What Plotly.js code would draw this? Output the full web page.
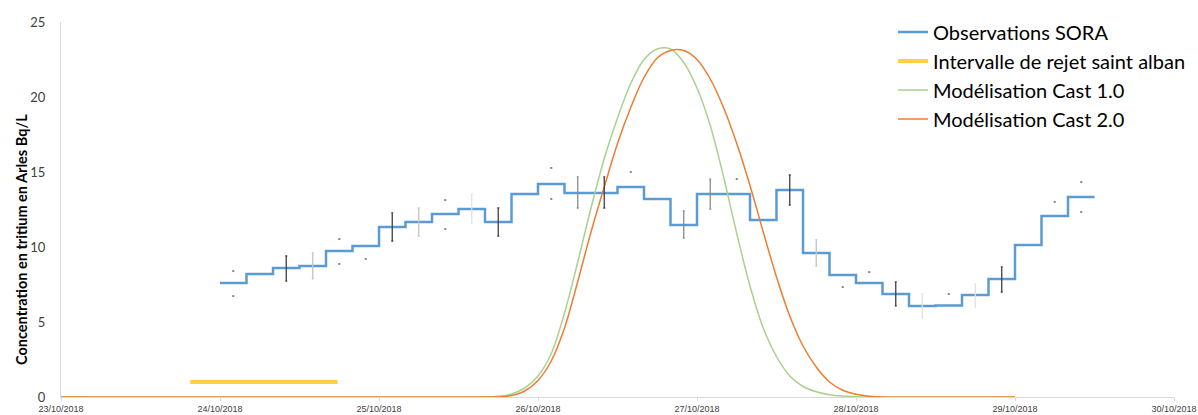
<!DOCTYPE html>
<html>
<head>
<meta charset="utf-8">
<script src="https://cdn.plot.ly/plotly-3.0.1.min.js"></script>
<style>html,body{margin:0;padding:0;background:#fff;}#chart{width:1198px;height:415px;}</style>
</head>
<body>
<div id="chart"></div>
<script>
// ---- Data ----
// Observations SORA: 4-hour step values starting 24/10/2018 00:00
const obsStart = '2018-10-24 00:00';
const obsValues = [7.6, 8.2, 8.6, 8.73, 9.73, 10.07,
                   11.33, 11.67, 12.2, 12.53, 11.67, 13.53,
                   14.2, 13.6, 13.6, 14.0, 13.2, 11.47,
                   13.53, 13.53, 11.8, 13.8, 9.6, 8.13,
                   7.6, 6.87, 6.07, 6.1, 6.8, 7.87,
                   10.13, 12.07, 13.33];

// Error bars (index of 4-h interval, upper, lower)
const darkBarIdx = [2, 6, 10, 14, 21, 25, 29];
const darkBarHigh = [9.4, 12.27, 12.6, 14.67, 14.8, 7.67, 8.67];
const darkBarLow = [7.73, 10.4, 10.73, 12.6, 12.8, 6.07, 7.0];
const grayBarIdx = [13, 17, 18];
const grayBarHigh = [14.67, 12.4, 14.53];
const grayBarLow = [12.6, 10.6, 12.53];
const lightBarIdx = [3, 7, 22];
const lightBarHigh = [9.6, 12.6, 10.47];
const lightBarLow = [7.87, 10.73, 8.73];
const paleBarIdx = [9, 26, 28];
const paleBarHigh = [13.53, 6.87, 7.53];
const paleBarLow = [11.6, 5.27, 6.0];
// Error bar caps only (line invisible)
const capIdx = [0, 0, 4, 4, 5, 8, 8, 12, 12, 15, 19, 23, 24, 27, 31, 32, 32];
const capValues = [8.4, 6.73, 10.53, 8.87, 9.2, 13.13, 11.2, 15.27, 13.2, 15.0, 14.53, 7.33, 8.33, 6.87, 13.0, 14.33, 12.33];

// Intervalle de rejet saint alban
const rejetTimes = ['2018-10-23 19:30', '2018-10-24 17:45'];
const rejetValues = [1.0, 1.0];

// Model curves: hours relative to 26/10/2018 00:00
const modelRef = '2018-10-26 00:00';
const modelHours = [-72, -8, -6, -4, -2, 0, 2, 4, 6, 8, 10, 12, 14, 16, 18, 20, 22, 24, 26, 28, 30, 32, 34, 36, 38, 40, 42, 44, 46, 48, 50, 52, 72];
const cast1Values = [0, 0, 0.05, 0.2, 0.6, 1.4, 2.9, 5.6, 9.0, 12.6, 15.9, 18.6, 20.9, 22.5, 23.2, 23.2, 22.3, 20.6, 18.1, 14.7, 10.9, 7.4, 4.6, 2.7, 1.4, 0.7, 0.35, 0.15, 0.06, 0.02, 0, 0, 0];
const cast2Values = [0, 0, 0, 0.1, 0.4, 1.1, 2.4, 4.6, 7.7, 11.0, 14.0, 16.9, 19.3, 21.3, 22.6, 23.1, 23.1, 22.5, 21.2, 19.3, 16.9, 14.1, 11.0, 8.0, 5.4, 3.4, 2.0, 1.0, 0.45, 0.18, 0.05, 0, 0];

const xRange = ['2018-10-23 00:00', '2018-10-30 00:00'];
const yTicks = [0, 5, 10, 15, 20, 25];

// ---- helpers ----
function toMs(s){ const p = s.split(/[- :]/).map(Number); return Date.UTC(p[0], p[1]-1, p[2], p[3]||0, p[4]||0); }
function fmt(ms){ return new Date(ms).toISOString().slice(0,16).replace('T',' '); }
const H = 3600e3;
const obsT0 = toMs(obsStart);
const obsX = obsValues.map((v,i)=>fmt(obsT0 + i*4*H)).concat([fmt(obsT0 + obsValues.length*4*H)]);
const obsY = obsValues.concat([obsValues[obsValues.length-1]]);
const idxTime = i => fmt(obsT0 + (i*4+2)*H);
const modelX = modelHours.map(h => fmt(toMs(modelRef) + h*H));

function barTrace(idx, hi, lo, color){
  const mid = hi.map((h,i)=>(h+lo[i])/2);
  return {
    x: idx.map(idxTime), y: mid, type:'scatter', mode:'markers',
    marker:{size:1, opacity:0}, showlegend:false, hoverinfo:'skip',
    error_y:{type:'data', symmetric:false, array: hi.map((h,i)=>h-mid[i]), arrayminus: lo.map((l,i)=>mid[i]-l), color: color, thickness:1.3, width:1}
  };
}

const traces = [
  {x: obsX, y: obsY, type:'scatter', mode:'lines', name:'Observations SORA', line:{shape:'hv', color:'#5B9BD5', width:2.5}},
  {x: rejetTimes, y: rejetValues, type:'scatter', mode:'lines', name:'Intervalle de rejet saint alban', line:{color:'#FFC000', width:4}, opacity:0.75},
  {x: modelX, y: cast1Values, type:'scatter', mode:'lines', name:'Modélisation Cast 1.0', line:{shape:'spline', color:'#A9D18E', width:1.5}},
  {x: modelX, y: cast2Values, type:'scatter', mode:'lines', name:'Modélisation Cast 2.0', line:{shape:'spline', color:'#ED7D31', width:1.5}},
  barTrace(darkBarIdx, darkBarHigh, darkBarLow, '#404040'),
  barTrace(grayBarIdx, grayBarHigh, grayBarLow, '#8C8C8C'),
  barTrace(lightBarIdx, lightBarHigh, lightBarLow, '#C4C4C4'),
  barTrace(paleBarIdx, paleBarHigh, paleBarLow, '#E2E2E2'),
  {x: capIdx.map(idxTime), y: capValues, type:'scatter', mode:'markers', showlegend:false, hoverinfo:'skip',
   marker:{symbol:'line-ew', size:1.5, line:{width:1.5, color:'#666666'}, color:'#666666'}}
];

const layout = {
  width:1198, height:415,
  margin:{l:61, r:24, t:22, b:18, autoexpand:false},
  paper_bgcolor:'#ffffff', plot_bgcolor:'#ffffff',
  font:{family:'Lato, "Open Sans", sans-serif', color:'#595959'},
  showlegend:true,
  legend:{x:0.7475, xanchor:'left', y:1.0256, yanchor:'top', bgcolor:'rgba(0,0,0,0)', borderwidth:0,
          font:{size:20, color:'#000000', family:'Lato, sans-serif'}, itemwidth:30, tracegroupgap:0},
  xaxis:{type:'date', range:xRange, tick0:'2018-10-23', dtick:86400000, tickformat:'%d/%m/%Y',
         showgrid:false, zeroline:false, showline:true, linecolor:'#D9D9D9', linewidth:1,
         ticks:'outside', ticklen:3, tickcolor:'#D9D9D9', tickfont:{size:9, color:'#404040', family:'"Liberation Sans", sans-serif'},
         automargin:false, fixedrange:true},
  yaxis:{range:[0,25], tickvals:yTicks, showgrid:false, zeroline:false, showline:true, linecolor:'#D9D9D9', linewidth:1,
         ticks:'', ticklabelstandoff:12, tickfont:{size:13, color:'#404040'}, automargin:false, fixedrange:true},
  annotations:[{text:'<b>Concentration en tritium en Arles Bq/L</b>', textangle:-90, xref:'paper', yref:'paper',
                x:-0.0355, y:0.42, xanchor:'center', yanchor:'middle', showarrow:false,
                font:{size:14.5, color:'#000000', family:'Lato, sans-serif'}}]
};

Plotly.newPlot('chart', traces, layout, {displayModeBar:false, staticPlot:true});
</script>
</body>
</html>
